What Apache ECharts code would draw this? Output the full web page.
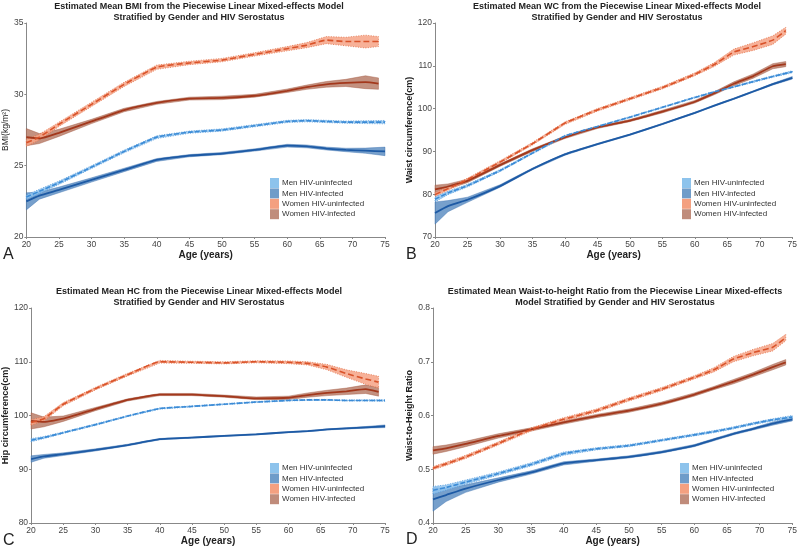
<!DOCTYPE html>
<html>
<head>
<meta charset="UTF-8">
<title>anthropometry</title>
<script src="https://cdn.jsdelivr.net/npm/echarts@6/dist/echarts.min.js"></script>
<style>
	html, body { margin:0; padding:0; background:#fff; }
	#chart-div { width:800px; height:549px; }
</style>
</head>
<body>
	<div id="chart-div"></div>

	<script type="text/javascript">
		// ages (years) at which the model estimates are read
		var agesMen   = [20, 22, 25, 30, 35, 40, 45, 50, 55, 60, 63, 66, 69, 72, 75];
		var agesWomen = [20, 22, 25, 30, 35, 40, 45, 50, 55, 60, 63, 66, 69, 72, 74];

		var legendNames = ['Men HIV-uninfected', 'Men HIV-infected', 'Women HIV-uninfected', 'Women HIV-infected'];

		// A - BMI
		var bmiMenUninf     = [22.8, 23.2, 23.8, 24.9, 26.0, 27.0, 27.35, 27.5, 27.8, 28.1, 28.15, 28.1, 28.05, 28.05, 28.05];
		var bmiMenUninfCi   = [0.15, 0.15, 0.12, 0.1, 0.1, 0.1, 0.08, 0.08, 0.08, 0.08, 0.08, 0.08, 0.08, 0.1, 0.12];
		var bmiMenInf       = [22.5, 22.9, 23.3, 24.0, 24.7, 25.4, 25.7, 25.85, 26.1, 26.4, 26.35, 26.2, 26.1, 26.05, 26.0];
		var bmiMenInfCi     = [0.6, 0.25, 0.2, 0.15, 0.12, 0.1, 0.08, 0.08, 0.08, 0.1, 0.1, 0.1, 0.12, 0.18, 0.3];
		var bmiWomenUninf   = [26.6, 27.0, 27.9, 29.3, 30.7, 31.9, 32.2, 32.4, 32.8, 33.2, 33.45, 33.8, 33.7, 33.7, 33.7];
		var bmiWomenUninfCi = [0.25, 0.2, 0.15, 0.15, 0.15, 0.15, 0.12, 0.12, 0.12, 0.15, 0.18, 0.25, 0.3, 0.45, 0.35];
		var bmiWomenInf     = [27.0, 26.9, 27.3, 28.1, 28.9, 29.4, 29.7, 29.75, 29.9, 30.25, 30.5, 30.7, 30.8, 30.85, 30.75];
		var bmiWomenInfCi   = [0.6, 0.35, 0.25, 0.15, 0.12, 0.1, 0.1, 0.12, 0.1, 0.12, 0.15, 0.2, 0.25, 0.45, 0.4];

		// B - waist circumference
		var wcMenUninf     = [78.8, 80.3, 82.0, 85.5, 89.6, 93.6, 95.8, 98.0, 100.3, 102.6, 103.9, 105.1, 106.3, 107.5, 108.6];
		var wcMenUninfCi   = [0.6, 0.4, 0.3, 0.25, 0.2, 0.2, 0.15, 0.15, 0.15, 0.15, 0.15, 0.15, 0.2, 0.2, 0.25];
		var wcMenInf       = [75.6, 77.2, 78.7, 81.9, 85.9, 89.3, 91.7, 93.9, 96.4, 99.0, 100.7, 102.3, 104.0, 105.7, 107.2];
		var wcMenInfCi     = [2.6, 1.3, 0.6, 0.3, 0.2, 0.2, 0.15, 0.15, 0.15, 0.15, 0.15, 0.15, 0.15, 0.2, 0.3];
		var wcWomenUninf   = [79.9, 81.3, 83.4, 87.5, 91.8, 96.6, 99.7, 102.3, 104.9, 108.0, 110.3, 113.2, 114.5, 116.0, 118.2];
		var wcWomenUninfCi = [0.5, 0.4, 0.35, 0.3, 0.3, 0.3, 0.3, 0.3, 0.3, 0.35, 0.45, 0.7, 0.9, 1.0, 0.8];
		var wcWomenInf     = [81.1, 81.8, 83.1, 86.8, 90.3, 93.3, 95.6, 97.2, 99.3, 101.6, 103.6, 105.8, 107.6, 109.9, 110.4];
		var wcWomenInfCi   = [1.0, 0.6, 0.4, 0.3, 0.3, 0.3, 0.25, 0.25, 0.3, 0.3, 0.35, 0.45, 0.5, 0.6, 0.6];

		// C - hip circumference
		var hcMenUninf     = [95.4, 95.9, 96.8, 98.3, 99.9, 101.3, 101.7, 102.1, 102.5, 102.8, 102.9, 102.9, 102.8, 102.8, 102.8];
		var hcMenUninfCi   = [0.3, 0.2, 0.15, 0.15, 0.12, 0.12, 0.1, 0.1, 0.1, 0.1, 0.1, 0.1, 0.1, 0.12, 0.15];
		var hcMenInf       = [91.9, 92.4, 92.8, 93.6, 94.5, 95.6, 95.9, 96.2, 96.5, 96.9, 97.1, 97.4, 97.6, 97.8, 98.0];
		var hcMenInfCi     = [0.6, 0.35, 0.25, 0.2, 0.15, 0.12, 0.1, 0.1, 0.1, 0.1, 0.1, 0.1, 0.12, 0.15, 0.25];
		var hcWomenUninf   = [98.7, 99.4, 102.1, 105.0, 107.6, 110.0, 109.9, 109.8, 110.0, 109.9, 109.7, 109.0, 107.8, 106.8, 106.2];
		var hcWomenUninfCi = [0.5, 0.4, 0.3, 0.25, 0.25, 0.25, 0.2, 0.2, 0.2, 0.25, 0.3, 0.5, 0.7, 1.0, 1.1];
		var hcWomenInf     = [99.0, 98.8, 99.4, 101.2, 102.9, 103.9, 103.9, 103.6, 103.2, 103.3, 103.8, 104.2, 104.5, 104.9, 104.4];
		var hcWomenInfCi   = [1.5, 0.9, 0.5, 0.3, 0.2, 0.2, 0.2, 0.2, 0.25, 0.3, 0.4, 0.5, 0.6, 0.8, 0.8];

		// D - waist-to-height ratio
		var whrMenUninf     = [0.461, 0.466, 0.476, 0.492, 0.509, 0.529, 0.538, 0.544, 0.554, 0.564, 0.570, 0.577, 0.585, 0.592, 0.597];
		var whrMenUninfCi   = [0.007, 0.005, 0.004, 0.003, 0.003, 0.003, 0.002, 0.002, 0.002, 0.002, 0.002, 0.002, 0.002, 0.002, 0.003];
		var whrMenInf       = [0.444, 0.452, 0.464, 0.480, 0.494, 0.511, 0.517, 0.523, 0.532, 0.544, 0.555, 0.566, 0.575, 0.585, 0.593];
		var whrMenInfCi     = [0.022, 0.012, 0.007, 0.004, 0.003, 0.003, 0.002, 0.002, 0.002, 0.002, 0.002, 0.002, 0.002, 0.003, 0.003];
		var whrWomenUninf   = [0.502, 0.510, 0.523, 0.548, 0.574, 0.593, 0.609, 0.630, 0.649, 0.671, 0.685, 0.705, 0.717, 0.727, 0.745];
		var whrWomenUninfCi = [0.003, 0.003, 0.003, 0.003, 0.003, 0.003, 0.003, 0.003, 0.003, 0.003, 0.004, 0.005, 0.006, 0.007, 0.006];
		var whrWomenInf     = [0.535, 0.539, 0.547, 0.562, 0.574, 0.587, 0.599, 0.609, 0.622, 0.639, 0.651, 0.663, 0.676, 0.690, 0.699];
		var whrWomenInfCi   = [0.007, 0.006, 0.005, 0.004, 0.003, 0.003, 0.003, 0.003, 0.003, 0.003, 0.003, 0.004, 0.004, 0.005, 0.005];

		var FONT = '"Liberation Sans", Arial, sans-serif';

		var looks = [
			{ line:'#3b8bd6', band:'#8fc3ee', edge:'#4f97da', dash:[5, 2], dotted:true,  legend:'#8dc3ec' },
			{ line:'#1d5aa5', band:'#5f8fc3', edge:'#3f74b0', dash:'solid', dotted:false, legend:'#6f9cc9' },
			{ line:'#d9532a', band:'#f6a386', edge:'#e06a40', dash:[6, 3], dotted:true,  legend:'#f4a080' },
			{ line:'#a3381c', band:'#b97e6a', edge:'#a2583f', dash:'solid', dotted:false, legend:'#c08c7b' }
		];

		// confidence band as one polygon (custom series) + mean line
		function bandGroup(panel, k, ages, mean, ci){
			var rows = [], mid = [];
			for(var i=0; i<ages.length; i++){
				rows.push([ages[i], mean[i]-ci[i], mean[i]+ci[i]]);
				mid.push([ages[i], mean[i]]);
			}
			var lk = looks[k];
			return [
				{
					type:'custom', name:legendNames[k], xAxisIndex:panel, yAxisIndex:panel,
					silent:true, animation:false, data:rows, encode:{ x:0, y:[1, 2] },
					renderItem:function(params, api){
						if(params.dataIndex !== 0) return;
						var pts = [];
						for(var j=0; j<rows.length; j++) pts.push(api.coord([rows[j][0], rows[j][1]]));
						for(var j=rows.length-1; j>=0; j--) pts.push(api.coord([rows[j][0], rows[j][2]]));
						return {
							type:'polygon',
							shape:{ points:pts },
							style:{ fill:lk.band, opacity:0.85, stroke:lk.edge,
								lineWidth:lk.dotted ? 0.9 : 0.5, lineDash:lk.dotted ? [1, 1.5] : null }
						};
					}
				},
				{
					type:'line', name:legendNames[k], xAxisIndex:panel, yAxisIndex:panel,
					symbol:'none', smooth:0.15, silent:true, animation:false, data:mid, z:3,
					lineStyle:{ color:lk.line, width:lk.dotted ? 1.6 : 1.8, type:lk.dash }
				}
			];
		}

		var panels = [
			{ mu:bmiMenUninf, muCi:bmiMenUninfCi, mi:bmiMenInf, miCi:bmiMenInfCi,
			  wu:bmiWomenUninf, wuCi:bmiWomenUninfCi, wi:bmiWomenInf, wiCi:bmiWomenInfCi },
			{ mu:wcMenUninf, muCi:wcMenUninfCi, mi:wcMenInf, miCi:wcMenInfCi,
			  wu:wcWomenUninf, wuCi:wcWomenUninfCi, wi:wcWomenInf, wiCi:wcWomenInfCi },
			{ mu:hcMenUninf, muCi:hcMenUninfCi, mi:hcMenInf, miCi:hcMenInfCi,
			  wu:hcWomenUninf, wuCi:hcWomenUninfCi, wi:hcWomenInf, wiCi:hcWomenInfCi },
			{ mu:whrMenUninf, muCi:whrMenUninfCi, mi:whrMenInf, miCi:whrMenInfCi,
			  wu:whrWomenUninf, wuCi:whrWomenUninfCi, wi:whrWomenInf, wiCi:whrWomenInfCi }
		];

		var grids = [
			{ left:25,  top:23,  width:360, height:214 },
			{ left:435, top:23,  width:360, height:214 },
			{ left:25,  top:308, width:360, height:215 },
			{ left:433, top:308, width:362, height:215 }
		];
		var yRanges = [[20, 35, 5], [70, 120, 10], [80, 120, 10], [0.4, 0.8, 0.1]];
		var yNames = ['BMI(kg/m\u00b2)', 'Waist circumference(cm)', 'Hip circumference(cm)', 'Waist-to-Height Ratio'];
		var yNameBold = ['normal', 'bold', 'bold', 'bold'];
		var yNameGaps = [14, 15, 15, 14];
		var titles = [
			'Estimated Mean BMI from the Piecewise Linear Mixed-effects Model\nStratified by Gender and HIV Serostatus',
			'Estimated Mean WC from the Piecewise Linear Mixed-effects Model\nStratified by Gender and HIV Serostatus',
			'Estimated Mean HC from the Piecewise Linear Mixed-effects Model\nStratified by Gender and HIV Serostatus',
			'Estimated Mean Waist-to-height Ratio from the Piecewise Linear Mixed-effects\nModel Stratified by Gender and HIV Serostatus'
		];
		var titlePos = [[199, 1], [617, 1], [199, 286], [615, 286]];
		var letters = ['A', 'B', 'C', 'D'];
		var letterPos = [[3, 247], [406, 247], [3, 533], [406, 532]];
		var legendPos = [[270, 178], [682, 178], [270, 463], [680, 463]];

		window.onload = drawChart;

		function drawChart(){
			var myChart = echarts.init(document.getElementById('chart-div'));
			var xAxes = [], yAxes = [], series = [], legends = [], graphics = [];

			for(var p=0; p<4; p++){
				xAxes.push({
					type:'value', gridIndex:p, min:20, max:75, interval:5,
					name:'Age (years)', nameLocation:'middle', nameGap:10,
					nameTextStyle:{ fontFamily:FONT, fontSize:10, fontWeight:'bold', color:'#222' },
					axisLine:{ lineStyle:{ color:'#888', width:1 } },
					axisTick:{ show:true, length:2, lineStyle:{ color:'#888' } },
					axisLabel:{ fontFamily:FONT, fontSize:8.5, color:'#444', margin:3 },
					splitLine:{ show:false }
				});
				yAxes.push({
					type:'value', gridIndex:p, min:yRanges[p][0], max:yRanges[p][1], interval:yRanges[p][2],
					name:yNames[p], nameLocation:'middle', nameGap:yNameGaps[p], nameRotate:90,
					nameTextStyle:{ fontFamily:FONT, fontSize:p == 0 ? 8.5 : 9, fontWeight:yNameBold[p], color:'#222' },
					axisLine:{ show:true, lineStyle:{ color:'#888', width:1 } },
					axisTick:{ show:true, length:2, lineStyle:{ color:'#888' } },
					axisLabel:{ fontFamily:FONT, fontSize:8.5, color:'#444', margin:3,
						formatter:function(v){ return v < 1 ? v.toFixed(1) : v; } },
					splitLine:{ show:false }
				});

				var d = panels[p];
				series = series.concat(
					bandGroup(p, 3, agesWomen, d.wi, d.wiCi),
					bandGroup(p, 2, agesWomen, d.wu, d.wuCi),
					bandGroup(p, 1, agesMen, d.mi, d.miCi),
					bandGroup(p, 0, agesMen, d.mu, d.muCi)
				);

				legends.push({
					left:legendPos[p][0], top:legendPos[p][1], orient:'vertical',
					icon:'rect', itemWidth:9, itemHeight:10, itemGap:0.4, padding:0,
					selectedMode:false,
					textStyle:{ fontFamily:FONT, fontSize:8, color:'#333', padding:[0, 0, 0, -2] },
					data:legendNames.map(function(n, i){
						return { name:n, itemStyle:{ color:looks[i].legend, borderWidth:0, opacity:1 } };
					})
				});

				graphics.push({
					type:'text', x:titlePos[p][0], y:titlePos[p][1], silent:true,
					style:{ text:titles[p], fontFamily:FONT, fontSize:9, fontWeight:'bold', fill:'#222',
						align:'center', verticalAlign:'top', lineHeight:11 }
				});
				graphics.push({
					type:'text', x:letterPos[p][0], y:letterPos[p][1], silent:true,
					style:{ text:letters[p], fontFamily:FONT, fontSize:16, fill:'#222' }
				});
			}

			var option = {
				backgroundColor:'#fff',
				animation:false,
				grid:grids,
				xAxis:xAxes,
				yAxis:yAxes,
				legend:legends,
				graphic:graphics,
				series:series
			};

			myChart.setOption(option);
		}
	</script>
</body>
</html>
